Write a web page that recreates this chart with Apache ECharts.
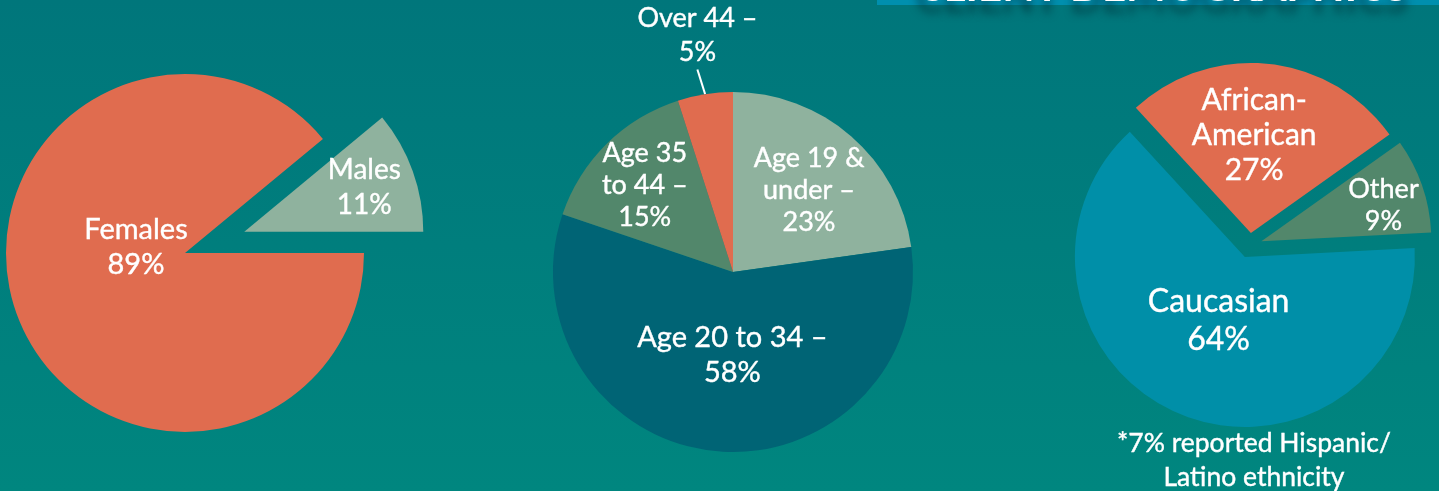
<!DOCTYPE html>
<html><head><meta charset="utf-8">
<script src="https://cdn.jsdelivr.net/npm/echarts@6/dist/echarts.min.js"></script>
<style>html,body{margin:0;padding:0;overflow:hidden}#c{width:1439px;height:491px}</style>
</head><body><div id="c"></div>
<script>
// ---- data ----
const genderNames = ['Males', 'Females'];
const genderValues = [11, 89];
const ageNames = ['Age 19 &\nunder –', 'Age 20 to 34 –', 'Age 35\nto 44 –', 'Over 44 –'];
const ageValues = [23, 58, 15, 5];
const raceNames = ['African-\nAmerican', 'Other', 'Caucasian'];
const raceValues = [27, 9, 64];
const footnoteText = '*7% reported Hispanic/\nLatino ethnicity';
const titleText = 'CLIENT DEMOGRAPHICS';

// ---- styles ----
const COL = {orange:'#e06c4f', sage:'#8fb29e', navy:'#006475', green:'#52876b', blue:'#008fa8'};
const genderColors = [COL.sage, COL.orange];
const ageColors = [COL.sage, COL.navy, COL.green, COL.orange];
const raceColors = [COL.orange, COL.green, COL.blue];
const genderFont = [[28,35],[29,35]];
const ageFont = [[27,32],[29,35],[27,32],[27,34]];
const raceFont = [[30,35],[27,32],[32,38]];
// label nudges (dx, dy) relative to default inside position
const genderNudge = [[33,-13],[38,-37]];
const ageNudge = [[15,-12],[8,-9],[-23,-20],null];
const raceNudge = [[-6,-10],[39,-7],[7,-18]];

function items(names, values, colors, fonts, selectedAll, selIdx){
  return names.map((n,i)=>({
    name:n, value:values[i],
    selected: selectedAll || i===selIdx,
    itemStyle:{color:colors[i]},
    label:{fontSize:fonts[i][0], lineHeight:fonts[i][1]}
  }));
}
function nudger(nudges){
  return function(p){
    const d = nudges[p.dataIndex];
    if (d) return {dx:d[0], dy:d[1]};
    const pts = p.labelLinePoints;
    if (pts) {
      const e = pts[pts.length-1];
      return {x:e[0]-4, y:e[1]-1, align:'center', verticalAlign:'bottom'};
    }
    return {};
  };
}
const baseLabel = {show:true, position:'inside', color:'#fff', fontFamily:'Lato', formatter:'{b}\n{c}%',
  textBorderColor:'#fff', textBorderWidth:0.4};
const common = {type:'pie', animation:false, avoidLabelOverlap:false, selectedMode:'multiple',
  emphasis:{disabled:true}, labelLine:{show:false}, label:baseLabel};

const ageData = items(ageNames, ageValues, ageColors, ageFont, false, -1);
ageData[3].label = Object.assign({}, ageData[3].label, {position:'outside'});
ageData[3].labelLine = {show:true, length:24, length2:0, lineStyle:{color:'#fff', width:2}};

const option = {
  backgroundColor: new echarts.graphic.LinearGradient(0,0,0,1,[{offset:0,color:'#00767b'},{offset:1,color:'#00867f'}]),
  animation:false,
  series:[
    Object.assign({}, common, {center:[185,253], radius:179, startAngle:39.6, selectedOffset:63,
      data: items(genderNames, genderValues, genderColors, genderFont, false, 0),
      labelLayout: nudger(genderNudge)}),
    Object.assign({}, common, {center:[733,272], radius:180, startAngle:90, selectedMode:false,
      data: ageData, labelLayout: nudger(ageNudge)}),
    Object.assign({}, common, {center:[1249.6,245.4], radius:170, startAngle:132.6, selectedOffset:12.5,
      data: items(raceNames, raceValues, raceColors, raceFont, true, -1),
      labelLayout: nudger(raceNudge)})
  ],
  graphic:[
    {type:'rect', silent:true, shape:{x:877, y:-60, width:620, height:65}, style:{fill:'#008fae'}},
    {type:'text', silent:true, x:1162, y:8, style:{text:titleText, fill:'#fff', font:'bold 42px Lato',
      align:'center', verticalAlign:'bottom', textShadowColor:'rgba(0,40,50,0.55)', textShadowBlur:8, textShadowOffsetY:12}},
    {type:'text', silent:true, x:1254, y:460, style:{text:footnoteText, fill:'#fff', font:'26.5px Lato',
      lineHeight:34, align:'center', verticalAlign:'middle', stroke:'#fff', lineWidth:0.4}}
  ]
};
const chart = echarts.init(document.getElementById('c'));
chart.setOption(option);
</script></body></html>
